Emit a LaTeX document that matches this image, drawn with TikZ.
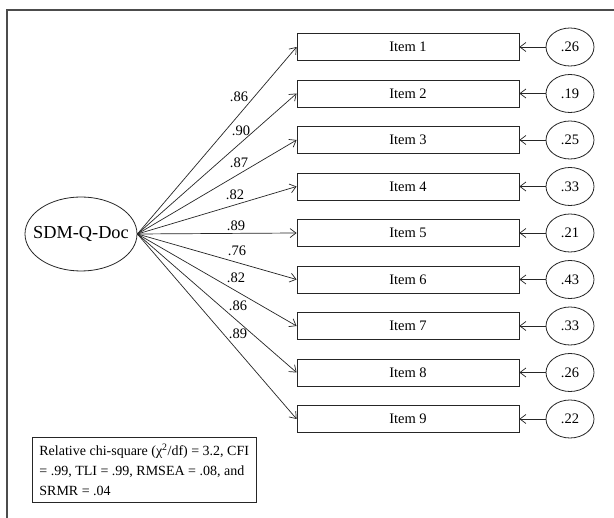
\documentclass[tikz,border=0pt]{standalone}
\usepackage{fontspec}
\setmainfont{Liberation Serif}
\usetikzlibrary{arrows.meta,shapes.geometric}
\begin{document}
\begin{tikzpicture}[x=1pt,y=-1pt,
  itembox/.style={draw=black!85,line width=0.8pt,minimum width=222pt,minimum height=27pt,inner sep=0pt,font=\fontsize{14.5}{16}\selectfont},
  errell/.style={draw=black!85,line width=0.8pt,ellipse,minimum width=48pt,minimum height=38pt,inner sep=0pt,font=\fontsize{14.5}{16}\selectfont},
  path/.style={draw=black!85,line width=0.7pt,-{Straight Barb[length=6pt,width=9pt]}},
  lbl/.style={font=\fontsize{14.5}{16}\selectfont,inner sep=0pt}
]
\useasboundingbox (0,0) rectangle (614,518);
\fill[white] (0,0) rectangle (614,518);
\coordinate (ftop) at (614,10);
\coordinate (fcorner) at (7,10);
\coordinate (fbot) at (7,518);
\draw[black!70,line width=1.4pt] (ftop) -- (fcorner) -- (fbot);

\node[draw=black!85,line width=0.8pt,ellipse,minimum width=112pt,minimum height=74pt,inner sep=0pt,font=\fontsize{18.3}{22}\selectfont] (lat) at (81,234) {\makebox[0pt][c]{SDM-Q-Doc}};

\foreach \k/\e in {1/.26,2/.19,3/.25,4/.33,5/.21,6/.43,7/.33,8/.26,9/.22}{
  \node[itembox] (i\k) at (408,{47+46.5*(\k-1)}) {Item \k};
  \node[errell] (e\k) at (570,{47+46.5*(\k-1)}) {\e};
  \draw[path] (e\k) -- (i\k.east);
  \draw[path] (lat.east) -- (i\k.west);
}

\node[lbl] (l1) at (239,97) {.86};
\node[lbl] (l2) at (241,131) {.90};
\node[lbl] (l3) at (239,163) {.87};
\node[lbl] (l4) at (235,195) {.82};
\node[lbl] (l5) at (236,226) {.89};
\node[lbl] (l6) at (237,251) {.76};
\node[lbl] (l7) at (236,278) {.82};
\node[lbl] (l8) at (238,306) {.86};
\node[lbl] (l9) at (238,334) {.89};

\node[draw=black!85,line width=0.8pt,anchor=north west,minimum width=223pt,minimum height=65pt,align=left,inner xsep=7pt,inner ysep=2pt,font=\fontsize{14}{20}\selectfont] (fit) at (32,437) {Relative chi-square (χ\textsuperscript{2}/df) = 3.2, CFI\\ = .99, TLI = .99, RMSEA = .08, and\\ SRMR = .04};
\end{tikzpicture}
\end{document}
